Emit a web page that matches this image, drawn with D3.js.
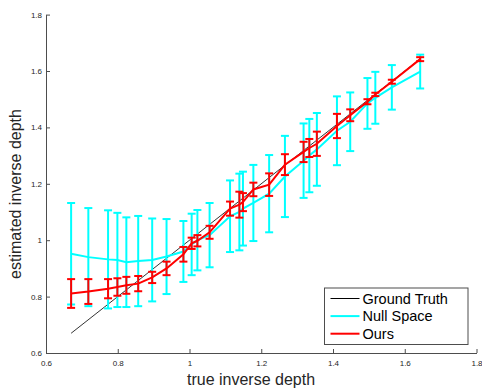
<!DOCTYPE html>
<html>
<head>
<meta charset="utf-8">
<script src="https://cdn.jsdelivr.net/npm/d3@7"></script>
<style>
  body { margin: 0; background: #fff; }
  text { font-family: "Liberation Sans", Arial, Helvetica, sans-serif; }
</style>
</head>
<body>
<svg id="chart" width="482" height="388"></svg>
<script>
// true inverse depth (shared x for both methods)
var trueDepth = [0.670, 0.718, 0.773, 0.799, 0.824, 0.857, 0.896, 0.936, 0.983, 1.006, 1.022, 1.056,
                 1.113, 1.139, 1.149, 1.178, 1.222, 1.266, 1.318, 1.334, 1.355, 1.411, 1.448, 1.496,
                 1.518, 1.564, 1.643];

// Null Space estimate and its error (half length)
var nullSpace = [0.952, 0.940, 0.932, 0.930, 0.922, 0.926, 0.930, 0.942, 0.960, 0.985, 1.000, 1.018,
                 1.085, 1.100, 1.112, 1.132, 1.165, 1.226, 1.282, 1.300, 1.322, 1.388, 1.420, 1.485,
                 1.505, 1.542, 1.598];
var nullErr = [0.180, 0.174, 0.174, 0.167, 0.159, 0.160, 0.147, 0.133, 0.108, 0.109, 0.107, 0.114,
               0.127, 0.136, 0.131, 0.135, 0.137, 0.144, 0.132, 0.130, 0.129, 0.122, 0.104, 0.090,
               0.092, 0.079, 0.060];

// Ours estimate and its error (half length)
var ours = [0.811, 0.818, 0.828, 0.834, 0.840, 0.846, 0.868, 0.900, 0.950, 0.989, 0.998, 1.028,
            1.112, 1.126, 1.135, 1.180, 1.197, 1.268, 1.313, 1.327, 1.342, 1.405, 1.443, 1.491,
            1.517, 1.562, 1.642];
var oursErr = [0.051, 0.044, 0.034, 0.031, 0.030, 0.027, 0.020, 0.024, 0.026, 0.020, 0.020, 0.023,
               0.025, 0.046, 0.032, 0.024, 0.040, 0.037, 0.036, 0.032, 0.043, 0.043, 0.021, 0.009,
               0.006, 0.007, 0.007];

var xTicks = [0.6, 0.8, 1, 1.2, 1.4, 1.6, 1.8];
var xTickLabels = ["0.6", "0.8", "1", "1.2", "1.4", "1.6", "1.8"];
var yTicks = [0.6, 0.8, 1, 1.2, 1.4, 1.6, 1.8];
var yTickLabels = ["0.6", "0.8", "1", "1.2", "1.4", "1.6", "1.8"];

var legendNames = ["Ground Truth", "Null Space", "Ours"];
var legendColors = ["#000000", "#00ffff", "#ff0000"];

var svg = d3.select('#chart');

var x = d3.scaleLinear().domain([0.6, 1.8]).range([46, 476.5]);
var y = d3.scaleLinear().domain([0.6, 1.8]).range([353, 14.6]);

var axisColor = '#4d4d4d';

// axes (matlab style, ticks inside, box off)
var xAxis = d3.axisBottom(x).tickValues(xTicks).tickSizeInner(-4).tickSizeOuter(0)
  .tickFormat(function(d, i) { return xTickLabels[i]; });
var gx = svg.append('g').attr('transform', 'translate(0,' + y(0.6) + ')').call(xAxis);

var yAxis = d3.axisLeft(y).tickValues(yTicks).tickSizeInner(-4).tickSizeOuter(0)
  .tickFormat(function(d, i) { return yTickLabels[i]; });
var gy = svg.append('g').attr('transform', 'translate(' + x(0.6) + ',0)').call(yAxis);

[gx, gy].forEach(function(g) {
  g.select('.domain').attr('stroke', axisColor).attr('stroke-width', 1);
  g.selectAll('.tick line').attr('stroke', axisColor).attr('stroke-width', 1);
  g.selectAll('.tick text').attr('fill', '#262626').style('font-size', '8px');
});
gx.selectAll('.tick text').attr('dy', null).attr('y', 13);
gy.selectAll('.tick text').attr('x', -4);

// axis labels
svg.append('text')
  .attr('x', 251).attr('y', 385)
  .attr('text-anchor', 'middle')
  .style('font-size', '16px').attr('fill', '#262626')
  .text('true inverse depth');

svg.append('text')
  .attr('transform', 'translate(21,194) rotate(-90)')
  .attr('text-anchor', 'middle')
  .style('font-size', '16px').attr('fill', '#262626')
  .text('estimated inverse depth');

// ground truth y = x
var first = trueDepth[0], last = trueDepth[trueDepth.length - 1];
svg.append('line')
  .attr('x1', x(first)).attr('y1', y(first))
  .attr('x2', x(last)).attr('y2', y(last))
  .attr('stroke', '#000').attr('stroke-width', 0.8);

function drawSeries(values, errs, color) {
  var g = svg.append('g');
  var line = d3.line()
    .x(function(d, i) { return x(trueDepth[i]); })
    .y(function(d) { return y(d); });
  g.append('path')
    .datum(values)
    .attr('d', line)
    .attr('fill', 'none')
    .attr('stroke', color)
    .attr('stroke-width', 2);

  var cap = 4;
  var bars = g.selectAll('g.bar')
    .data(values)
    .enter().append('g').attr('class', 'bar')
    .attr('stroke', color).attr('stroke-width', 2);
  bars.append('line')
    .attr('x1', function(d, i) { return x(trueDepth[i]); })
    .attr('x2', function(d, i) { return x(trueDepth[i]); })
    .attr('y1', function(d, i) { return y(d - errs[i]); })
    .attr('y2', function(d, i) { return y(d + errs[i]); });
  bars.append('line')
    .attr('x1', function(d, i) { return x(trueDepth[i]) - cap; })
    .attr('x2', function(d, i) { return x(trueDepth[i]) + cap; })
    .attr('y1', function(d, i) { return y(d + errs[i]); })
    .attr('y2', function(d, i) { return y(d + errs[i]); });
  bars.append('line')
    .attr('x1', function(d, i) { return x(trueDepth[i]) - cap; })
    .attr('x2', function(d, i) { return x(trueDepth[i]) + cap; })
    .attr('y1', function(d, i) { return y(d - errs[i]); })
    .attr('y2', function(d, i) { return y(d - errs[i]); });
}

drawSeries(nullSpace, nullErr, '#00ffff');
drawSeries(ours, oursErr, '#ff0000');

// legend
var lg = svg.append('g').attr('transform', 'translate(324.5,288)');
lg.append('rect')
  .attr('width', 143.5).attr('height', 56.5)
  .attr('fill', '#fff').attr('stroke', axisColor).attr('stroke-width', 1);
legendNames.forEach(function(name, i) {
  var ly = 10.5 + i * 17.6;
  lg.append('line')
    .attr('x1', 6).attr('x2', 35).attr('y1', ly).attr('y2', ly)
    .attr('stroke', legendColors[i]).attr('stroke-width', i == 0 ? 1 : 2);
  lg.append('text')
    .attr('x', 38).attr('y', ly + 5)
    .style('font-size', '14.5px').attr('fill', '#000')
    .text(name);
});
</script>
</body>
</html>
